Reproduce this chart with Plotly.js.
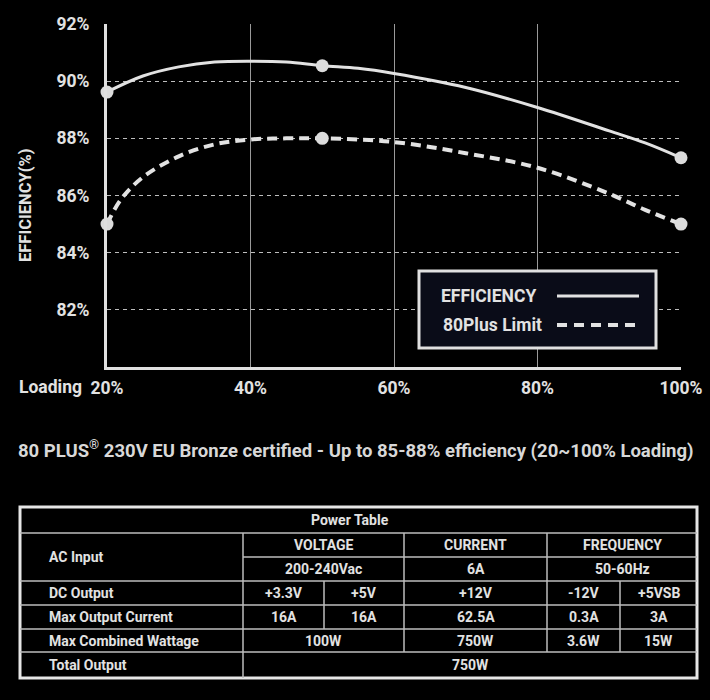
<!DOCTYPE html>
<html>
<head>
<meta charset="utf-8">
<script src="https://cdn.plot.ly/plotly-3.0.1.min.js"></script>
<style>
  html, body { margin: 0; padding: 0; background: #000; }
  #chart { width: 710px; height: 700px; }
</style>
</head>
<body>
<div id="chart"></div>
<script>
// ---------------- DATA ----------------
const effLoading = [20, 25, 30, 35, 40, 45, 50, 55, 60, 70, 80, 90, 95, 100];
const effValues  = [89.62, 90.18, 90.5, 90.67, 90.7, 90.67, 90.54, 90.45, 90.27, 89.78, 89.08, 88.26, 87.84, 87.32];
const effPointLoading = [20, 50, 100];
const effPointValues  = [89.62, 90.54, 87.32];

const limitLoading = [20, 22, 25, 30, 35, 40, 45, 50, 60, 70, 80, 90, 95, 100];
const limitValues  = [85.0, 85.88, 86.64, 87.37, 87.79, 87.96, 88.0, 88.0, 87.87, 87.48, 86.97, 86.06, 85.5, 85.0];
const limitPointLoading = [20, 50, 100];
const limitPointValues  = [85.0, 88.0, 85.0];

const xTickVals = [20, 40, 60, 80, 100];
const xTickText = ['20%', '40%', '60%', '80%', '100%'];
const yTickVals = [82, 84, 86, 88, 90, 92];
const yTickText = ['82%', '84%', '86%', '88%', '90%', '92%'];

const seriesNames = ['EFFICIENCY', '80Plus Limit'];
const yTitle = 'EFFICIENCY(%)';
const xLead = 'Loading';
const caption = '80 PLUS<sup>®</sup> 230V EU Bronze certified - Up to 85-88% efficiency (20~100% Loading)';

const tableTitle = 'Power Table';
const rowLabels = ['AC Input', 'DC Output', 'Max Output Current', 'Max Combined Wattage', 'Total Output'];
const acHeaders = ['VOLTAGE', 'CURRENT', 'FREQUENCY'];
const acValues = ['200-240Vac', '6A', '50-60Hz'];
const dcRails = ['+3.3V', '+5V', '+12V', '-12V', '+5VSB'];
const maxCurrent = ['16A', '16A', '62.5A', '0.3A', '3A'];
const combinedWattage = ['100W', '750W', '3.6W', '15W'];
const totalOutput = ['750W'];

// ---------------- LAYOUT HELPERS ----------------
const W = 710, H = 700;
const px = x => x / W;
const py = y => 1 - y / H;
const FG = '#e2e2e2';
const FONT = 'Roboto, "Liberation Sans", Arial, sans-serif';

// Table geometry (pixels)
const colX = [20, 243, 324, 404, 547, 620, 697];
const rowY = [507, 533, 557, 581, 605, 629, 652, 678];
const labelX = 47;
const TFS = 14;

const shapes = [];
const annotations = [];

function hline(y, x0, x1, w, c) {
  shapes.push({type: 'line', xref: 'paper', yref: 'paper', x0: px(x0), x1: px(x1), y0: py(y), y1: py(y),
               line: {color: c || '#bdbdbd', width: w || 1.5}});
}
function vline(x, y0, y1, w, c) {
  shapes.push({type: 'line', xref: 'paper', yref: 'paper', x0: px(x), x1: px(x), y0: py(y0), y1: py(y1),
               line: {color: c || '#bdbdbd', width: w || 1.5}});
}
function text(t, x, y, opts) {
  opts = opts || {};
  annotations.push(Object.assign({
    text: t, xref: 'paper', yref: 'paper', x: px(x), y: py(y),
    xanchor: 'center', yanchor: 'middle', showarrow: false,
    font: {family: FONT, size: TFS, color: FG, weight: 700}
  }, opts));
}

// ---- Table lines ----
shapes.push({type: 'rect', xref: 'paper', yref: 'paper', x0: px(colX[0]), x1: px(colX[6]),
             y0: py(rowY[0]), y1: py(rowY[7]), line: {color: '#e6e6e6', width: 3}, fillcolor: 'rgba(0,0,0,0)'});
[rowY[1], rowY[3], rowY[4], rowY[5], rowY[6]].forEach(y => hline(y, colX[0], colX[6]));
hline(rowY[2], colX[1], colX[6]);
vline(colX[1], rowY[1], rowY[7]);
vline(colX[3], rowY[1], rowY[6]);
vline(colX[4], rowY[1], rowY[6]);
vline(colX[2], rowY[3], rowY[5]);
vline(colX[5], rowY[3], rowY[6]);

// ---- Table text ----
const mid = (a, b) => (a + b) / 2;
text(tableTitle, 350, mid(rowY[0], rowY[1]));
text(rowLabels[0], labelX, mid(rowY[1], rowY[3]), {xanchor: 'left'});
for (let i = 1; i < rowLabels.length; i++) {
  text(rowLabels[i], labelX, mid(rowY[i + 2], rowY[i + 3]), {xanchor: 'left'});
}
const acSpans = [[colX[1], colX[3]], [colX[3], colX[4]], [colX[4], colX[6]]];
acHeaders.forEach((t, i) => text(t, mid(acSpans[i][0], acSpans[i][1]), mid(rowY[1], rowY[2])));
acValues.forEach((t, i) => text(t, mid(acSpans[i][0], acSpans[i][1]), mid(rowY[2], rowY[3])));
const railSpans = [[colX[1], colX[2]], [colX[2], colX[3]], [colX[3], colX[4]], [colX[4], colX[5]], [colX[5], colX[6]]];
dcRails.forEach((t, i) => text(t, mid(railSpans[i][0], railSpans[i][1]), mid(rowY[3], rowY[4])));
maxCurrent.forEach((t, i) => text(t, mid(railSpans[i][0], railSpans[i][1]), mid(rowY[4], rowY[5])));
const wattSpans = [[colX[1], colX[3]], [colX[3], colX[4]], [colX[4], colX[5]], [colX[5], colX[6]]];
combinedWattage.forEach((t, i) => text(t, mid(wattSpans[i][0], wattSpans[i][1]), mid(rowY[5], rowY[6])));
text(totalOutput[0], mid(colX[1], colX[6]), mid(rowY[6], rowY[7]));

// ---- Caption, axis titles ----
text(caption, 356, 449, {font: {family: FONT, size: 18.5, color: '#d8d8d8', weight: 700}});
text(yTitle, 25, 205, {textangle: -90, font: {family: FONT, size: 16.5, color: FG, weight: 700}});
text(xLead, 17, 387, {xanchor: 'left', font: {family: FONT, size: 17.5, color: FG, weight: 700}});

// ---- Custom legend ----
shapes.push({type: 'rect', xref: 'paper', yref: 'paper', x0: px(419), x1: px(656), y0: py(271), y1: py(348),
             line: {color: '#e0e0e0', width: 3}, fillcolor: '#0a0c18', layer: 'above'});
shapes.push({type: 'line', xref: 'paper', yref: 'paper', x0: px(557), x1: px(639), y0: py(296), y1: py(296),
             line: {color: FG, width: 3}, layer: 'above'});
shapes.push({type: 'line', xref: 'paper', yref: 'paper', x0: px(557), x1: px(639), y0: py(325), y1: py(325),
             line: {color: FG, width: 4, dash: '10px,7px'}, layer: 'above'});
text(seriesNames[0], 439, 296, {xanchor: 'left', font: {family: FONT, size: 17.5, color: FG, weight: 700}});
text(seriesNames[1], 441, 325, {xanchor: 'left', font: {family: FONT, size: 17.5, color: FG, weight: 700}});

// ---------------- TRACES ----------------
const traces = [
  {x: effLoading, y: effValues, type: 'scatter', mode: 'lines', name: seriesNames[0],
   line: {color: FG, width: 3, shape: 'spline', smoothing: 1}, hoverinfo: 'skip', cliponaxis: false},
  {x: limitLoading, y: limitValues, type: 'scatter', mode: 'lines', name: seriesNames[1],
   line: {color: FG, width: 4, dash: '10px,6px', shape: 'spline', smoothing: 1}, hoverinfo: 'skip', cliponaxis: false},
  {x: effPointLoading, y: effPointValues, type: 'scatter', mode: 'markers', name: seriesNames[0],
   marker: {color: '#dcdcdc', size: 13}, cliponaxis: false},
  {x: limitPointLoading, y: limitPointValues, type: 'scatter', mode: 'markers', name: seriesNames[1],
   marker: {color: '#dcdcdc', size: 13}, cliponaxis: false}
];

const layout = {
  width: W, height: H,
  paper_bgcolor: '#000', plot_bgcolor: '#000',
  margin: {l: 0, r: 0, t: 0, b: 0, pad: 0},
  showlegend: false,
  font: {family: FONT, color: FG},
  xaxis: {
    domain: [px(107), px(681)], range: [20, 100], autorange: false, fixedrange: true,
    tickvals: xTickVals, ticktext: xTickText, ticks: '',
    tickfont: {family: FONT, size: 17.5, color: FG, weight: 700},
    showgrid: true, gridcolor: '#9a9a9a', gridwidth: 1,
    showline: true, linecolor: '#e0e0e0', linewidth: 3, mirror: false,
    zeroline: false, automargin: false, ticklabelstandoff: 3
  },
  yaxis: {
    domain: [py(367), py(24)], range: [80, 92], autorange: false, fixedrange: true,
    tickvals: yTickVals, ticktext: yTickText, ticks: '',
    tickfont: {family: FONT, size: 17.5, color: FG, weight: 700},
    showgrid: true, gridcolor: '#bdbdbd', gridwidth: 1, griddash: '4px,4px',
    showline: true, linecolor: '#e0e0e0', linewidth: 3, mirror: false,
    zeroline: false, automargin: false, ticklabelstandoff: 11
  },
  shapes: shapes,
  annotations: annotations
};

Plotly.newPlot('chart', traces, layout, {displayModeBar: false, staticPlot: true});
</script>
</body>
</html>
